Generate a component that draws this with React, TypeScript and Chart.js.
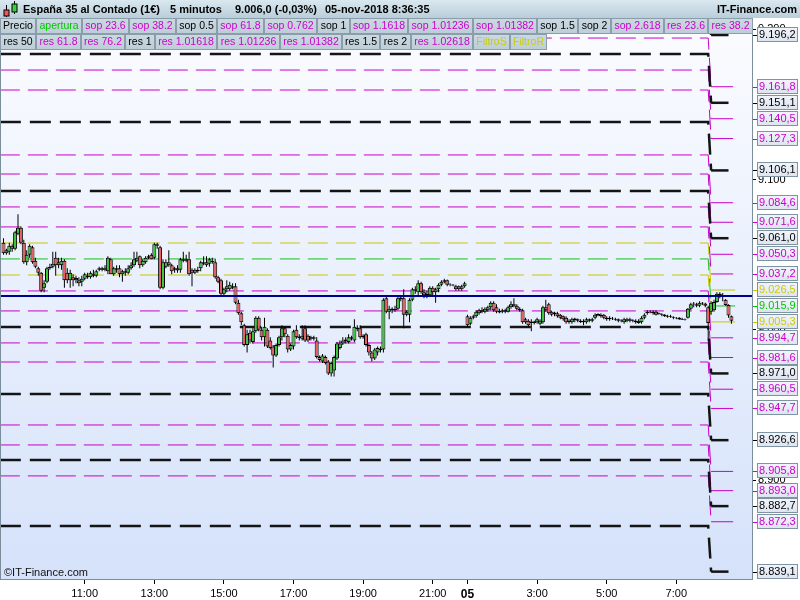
import React, { useEffect, useRef } from "react";
import { Chart, registerables } from "chart.js";

Chart.register(...registerables);

const FONT = "'Liberation Sans', Arial, Helvetica, sans-serif";

// ---- candles (5-minute bars, index 0 = 08:40 on 02-nov, index 251 = 08:35 on 05-nov) ----
const opens = [
  9058, 9051, 9052, 9056, 9054, 9064, 9068, 9058, 9045, 9050, 9055, 9046, 9041, 9038, 9028, 9032, 9041, 9042, 9048, 9045,
  9043, 9046, 9038, 9033, 9035, 9034.5, 9033, 9032, 9034, 9036, 9035, 9037, 9036, 9040, 9041, 9040, 9039, 9047, 9037, 9041,
  9041, 9037, 9039, 9038, 9041, 9043, 9046, 9049, 9043, 9045, 9048, 9050, 9048, 9057, 9055, 9028, 9042, 9045, 9043, 9040,
  9039.5, 9040, 9047, 9046, 9047, 9040, 9038, 9040, 9041, 9045, 9045, 9044, 9046, 9045, 9035, 9033, 9024, 9027, 9027, 9029,
  9029, 9018, 9011, 9003, 8990, 8998, 8992, 8999, 9008, 9000, 8995, 9000, 8993, 8989, 8983, 8990, 8995, 9001, 8996, 8987,
  8989, 9000, 8995.5, 8994, 9001, 8996, 8995, 8994, 8993, 8982, 8979, 8982, 8979, 8971, 8973, 8981, 8988, 8991, 8992.5, 8992,
  8995, 8993, 9001.5, 9001, 8996, 8997, 8990, 8985, 8981, 8985, 8987.5, 8987, 9021, 9012, 9014, 9013, 9014, 9020.5, 9021, 9010,
  9010, 9020, 9027, 9025, 9031, 9025, 9023, 9023, 9028, 9025, 9027, 9030, 9032, 9033, 9030, 9030, 9029, 9029, 9027, 9029,
  9009, 9004, 9008, 9009, 9011, 9013, 9012, 9013, 9015, 9018, 9015, 9012.5, 9012, 9013, 9012, 9015, 9017, 9016, 9013, 9013,
  9007, 9006, 9005.5, 9004.5, 9005, 9004, 9005, 9015, 9017, 9012, 9011.5, 9011, 9010, 9009, 9008, 9006, 9005, 9007.5, 9007, 9006,
  9006, 9005, 9007, 9006, 9008, 9010.5, 9010, 9010, 9007, 9008, 9008, 9007, 9007, 9006.3, 9005, 9006, 9007, 9006.5, 9006, 9006,
  9005, 9008, 9011, 9011.5, 9012, 9012, 9011, 9010.5, 9010, 9009.2, 9009, 9008.5, 9008, 9008, 9007.2, 9007, 9008, 9014, 9016.8, 9017,
  9016, 9018, 9017.5, 9015, 9012, 9013, 9018.5, 9024, 9023, 9020, 9016.5, 9009,
];
const highs = [
  9061, 9054, 9058, 9057, 9066, 9077, 9069, 9060, 9053, 9057, 9056, 9048, 9042, 9038.5, 9033, 9042, 9044, 9052, 9052, 9048,
  9048, 9047, 9041, 9040, 9037, 9036, 9035, 9036, 9038, 9038, 9039, 9040, 9040, 9042, 9042, 9043, 9049, 9048, 9042, 9043,
  9043, 9040, 9041, 9043, 9045, 9052, 9052, 9049.5, 9047, 9049, 9050, 9051, 9058, 9058, 9056, 9047, 9047, 9053, 9044, 9042,
  9043, 9048, 9052, 9050, 9052, 9041, 9041, 9042, 9046, 9049, 9049, 9048, 9048, 9047, 9036, 9034, 9028, 9033, 9032, 9031,
  9031, 9020, 9012, 9004, 9000, 9000, 9001, 9009, 9009, 9002, 9008, 9001, 8995, 8990, 8991, 8996, 9003, 9002, 8997, 8991,
  9000, 9003, 8997, 9003, 9003, 8997, 8996, 8996, 8995, 8983, 8984, 8983, 8980, 8979, 8983, 8992, 8993, 8995, 8995, 8997,
  8996, 9007, 9003, 9003, 8997, 8998, 8991, 8986, 8988, 8989, 8989, 9021, 9022, 9016, 9015, 9016, 9022, 9023, 9027, 9013,
  9021, 9028, 9029, 9033, 9032, 9027, 9026, 9029, 9029, 9028, 9031, 9033, 9034, 9033.5, 9031, 9030.5, 9030, 9029.5, 9030, 9032,
  9010, 9009, 9010, 9013, 9014, 9015, 9015, 9016, 9019, 9019, 9017, 9014, 9014, 9014, 9016, 9019, 9021, 9017, 9015, 9014,
  9008, 9007, 9007, 9006, 9008, 9007, 9016, 9020, 9018, 9012.5, 9012, 9012, 9010.5, 9009.5, 9009, 9007, 9008, 9008, 9007.5, 9007,
  9007, 9008, 9007.5, 9008, 9011, 9011, 9011, 9010.5, 9009, 9009, 9008.5, 9008, 9007.5, 9007, 9008, 9008, 9008, 9007, 9007, 9007,
  9009, 9011, 9013, 9013, 9013, 9013, 9011.5, 9011, 9010.5, 9010, 9010, 9009, 9008.5, 9008.5, 9008, 9007.5, 9014.5, 9018, 9018.5, 9018,
  9019, 9018.5, 9018, 9016, 9019, 9020, 9025, 9025, 9024.5, 9020.5, 9017, 9009.5,
];
const lows = [
  9050, 9050, 9050, 9052, 9053, 9063, 9057, 9044, 9043, 9048, 9044, 9041, 9036, 9025, 9025, 9031, 9040, 9041, 9036, 9041,
  9040, 9028, 9031, 9028, 9029, 9031, 9029, 9029, 9033, 9034, 9034, 9035, 9035, 9039, 9039, 9039, 9037, 9037, 9036, 9038,
  9035, 9032, 9036, 9037, 9040, 9042, 9045, 9041, 9042, 9044, 9047, 9047, 9047, 9054, 9027, 9027, 9041, 9042, 9037, 9038,
  9038, 9038, 9045, 9045, 9036, 9029, 9037, 9038, 9039, 9043, 9042, 9042, 9044, 9034, 9031, 9022, 9022, 9025, 9026, 9027,
  9017, 9010, 9003, 8989, 8985, 8991, 8991, 8998, 8999, 8993, 8989, 8988, 8987, 8975, 8982, 8989, 8993, 8995, 8985, 8986,
  8987, 8994, 8993, 8993, 8992, 8992, 8993, 8993, 8981, 8979, 8978, 8977, 8970, 8969, 8969, 8980, 8987, 8990, 8991, 8991,
  8993, 8992, 8999, 8994, 8994, 8989, 8983, 8979, 8980, 8983, 8985, 8985, 9011, 9007, 9011, 9012, 9013, 9019, 9001, 9009,
  9005, 9019, 9024, 9023, 9024, 9021, 9021, 9022, 9023, 9018, 9025, 9029, 9031, 9029, 9029, 9029, 9026, 9026, 9026, 9028,
  9002, 9003, 9007, 9008, 9010, 9011, 9011, 9012, 9013, 9012, 9011, 9011, 9011, 9011, 9011.5, 9014, 9015, 9013, 9012, 9004,
  9004, 9002, 8999, 9003.5, 9004, 9003, 9004, 9012, 9010, 9009, 9009, 9008, 9007, 9006, 9004, 9004, 9004, 9005, 9005, 9004.5,
  9003, 9004, 9005, 9005, 9007, 9009, 9008, 9007, 9006, 9006, 9006.5, 9006, 9005, 9005, 9004, 9005, 9005, 9005, 9004, 9004,
  9004, 9007, 9010, 9011, 9010, 9009.5, 9010, 9009, 9008.5, 9008, 9008, 9007, 9007, 9006.5, 9006.5, 9006.3, 9007.5, 9013, 9015, 9015,
  9015, 9016.5, 9015, 8993, 9010, 9012, 9018, 9021, 9019, 9016, 9008, 9004,
];
const closes = [
  9051, 9053, 9056, 9054, 9065, 9068, 9058, 9045, 9050, 9056, 9045, 9042, 9038, 9026, 9031, 9041, 9042, 9044, 9043, 9043,
  9046, 9033, 9033, 9038, 9033, 9033, 9031, 9034, 9037, 9035, 9038, 9036, 9039, 9041, 9040, 9041, 9048, 9037, 9041, 9040,
  9037, 9039, 9038, 9041, 9043, 9047, 9048, 9043, 9046, 9048, 9049, 9047, 9057, 9056, 9028, 9045, 9045, 9043, 9039, 9041,
  9041, 9047, 9046, 9047, 9037, 9038, 9040, 9039, 9045, 9044, 9043, 9047, 9045, 9035, 9032, 9024, 9027, 9029, 9030, 9028,
  9018, 9011, 9005, 8990, 8997, 8993, 8999, 9008, 9000, 8995, 9002, 8989, 8988, 8983, 8990, 8995, 9001, 8997, 8987, 8990,
  8999, 8995, 8994.5, 8996, 8993, 8993, 8994, 8995, 8982, 8980, 8983, 8978, 8971, 8978, 8982, 8991, 8991, 8993, 8993.5, 8995,
  8994, 9002, 9000.5, 8995, 8995, 8990, 8985, 8981, 8987, 8988, 8986.5, 9020, 9012, 9014, 9013, 9014, 9021, 9021.5, 9010, 9012,
  9020, 9027, 9026, 9031, 9025, 9023, 9024, 9028, 9025, 9027, 9030, 9032, 9033, 9030, 9030.3, 9029.5, 9027, 9027, 9029, 9031,
  9003, 9008, 9009, 9012, 9013, 9012, 9014, 9015, 9018, 9013, 9012, 9011.5, 9013, 9012, 9015, 9017, 9016, 9014, 9014, 9005,
  9005, 9003, 9004.5, 9005.5, 9007, 9006, 9015, 9013, 9011, 9010, 9010.5, 9009, 9008, 9007, 9005, 9005, 9007, 9006.5, 9006, 9005,
  9005, 9007, 9006, 9007, 9010, 9009.5, 9009, 9008, 9008, 9007, 9007.5, 9006.5, 9006, 9005.7, 9007, 9007, 9006, 9006, 9005, 9004.5,
  9008, 9010, 9012, 9012, 9011, 9010, 9010.5, 9010, 9009, 9008.8, 9008.5, 9008, 9007.7, 9007, 9006.8, 9006.8, 9014, 9017, 9017.6, 9016,
  9018, 9017.5, 9016, 9004.5, 9018, 9018.5, 9024, 9023, 9022, 9016.5, 9009.5, 9006,
];

// ---- time axis ----
const tickIdx = [28, 52, 76, 100, 124, 148, 160, 184, 208, 232];
const tickLabels = ["11:00", "13:00", "15:00", "17:00", "19:00", "21:00", "05", "3:00", "5:00", "7:00"];
const boldTick = 160;
const yTicks = [8900, 9000, 9100, 9200];

// ---- pivot / fibonacci levels (old = 02-nov, new = from 8:00 on 05-nov) ----
const pivotSwitchIdx = 244;
const blackOld = [9228.0, 9183.5, 9138.3, 9092.4, 9001.9, 8957.3, 8913.4, 8869.5];
const blackNew = [9196.2, 9151.1, 9106.1, 9061.0, 8971.0, 8926.6, 8882.7, 8839.1];
const magentaOld = [9194.2, 9172.9, 9159.6, 9116.4, 9103.7, 9081.8, 9068.5, 9025.9, 9012.6, 8991.3, 8978.6, 8936.7, 8923.4, 8902.8];
const magentaNew = [9161.8, 9140.5, 9127.3, 9084.6, 9071.6, 9050.3, 9037.2, 8994.7, 8981.6, 8960.5, 8947.7, 8905.8, 8893.0, 8872.3];
const yellowOld = [9057.8, 9036.5];
const yellowNew = [9026.5, 9005.3];
const greenOld = [9047.2];
const greenNew = [9015.9];
const refLevel = 9022.6;
const blackNewEnd = 250;
const magentaNewEnd = 251.6;
const yellowNewEnd = 252.3;

// ---- axis ranges ----
const X_MIN = -0.86;
const X_MAX = 258.1;
const Y_MIN = 8834.2;
const Y_MAX = 9208.2;

// ---- header texts ----
const titleParts = ["España 35 al Contado (1€)", "5 minutos", "9.006,0 (-0,03%)", "05-nov-2018 8:36:35"];
const titleX = [23, 170, 235, 325];
const siteName = "IT-Finance.com";
const watermark = "©IT-Finance.com";
const legendRow1 = ["Precio", "apertura", "sop 23.6", "sop 38.2", "sop 0.5", "sop 61.8", "sop 0.762", "sop 1", "sop 1.1618",
  "sop 1.01236", "sop 1.01382", "sop 1.5", "sop 2", "sop 2.618", "res 23.6", "res 38.2"];
const legendRow1Kinds = ["k", "g", "m", "m", "k", "m", "m", "k", "m", "m", "m", "k", "k", "m", "m", "m"];
const legendRow2 = ["res 50", "res 61.8", "res 76.2", "res 1", "res 1.01618", "res 1.01236", "res 1.01382", "res 1.5", "res 2",
  "res 1.02618", "FiltroS", "FiltroR"];
const legendRow2Kinds = ["k", "m", "m", "k", "m", "m", "m", "k", "k", "m", "y", "y"];

const TEXT_COLORS: any = { k: "#000000", m: "#cc00cc", g: "#00c800", y: "#cccc00" };
const LINE_COLORS: any = { k: "#141414", m: "#c800c8", g: "#18c018", y: "#c8c800" };

function fmtLevel(v: number): string {
  const [ip, dp] = v.toFixed(1).split(".");
  return ip.slice(0, -3) + "." + ip.slice(-3) + "," + dp;
}
function fmtTick(v: number): string {
  const s = String(Math.round(v));
  return s.slice(0, -3) + "." + s.slice(-3);
}

function levelSets(olds: number[], news: number[], kind: string, width: number, dash: number[], newEnd: number) {
  const color = LINE_COLORS[kind];
  const out: any[] = [];
  olds.forEach((o, k) => {
    const n = news[k];
    out.push({
      type: "line",
      data: [{ x: X_MIN - 0.4, y: o }, { x: pivotSwitchIdx - 1, y: o }, { x: pivotSwitchIdx, y: n }],
      borderColor: color, borderWidth: width, borderDash: dash, pointRadius: 0, tension: 0, order: 3,
    });
    out.push({
      type: "line",
      data: [{ x: pivotSwitchIdx, y: n }, { x: newEnd, y: n }],
      borderColor: color, borderWidth: width, pointRadius: 0, tension: 0, order: 3,
    });
  });
  return out;
}

function drawButtons(ctx: CanvasRenderingContext2D, items: string[], kinds: string[], y: number, h: number) {
  ctx.font = `10.5px ${FONT}`;
  let x = 0;
  items.forEach((t, k) => {
    const w = ctx.measureText(t).width + 6.7;
    const x0 = Math.round(x);
    const x1 = Math.round(x + w);
    const g = ctx.createLinearGradient(0, y, 0, y + h);
    g.addColorStop(0, "#ccdae2");
    g.addColorStop(1, "#bccdd7");
    ctx.fillStyle = g;
    ctx.fillRect(x0, y, x1 - x0, h);
    ctx.strokeStyle = "#8b9daa";
    ctx.lineWidth = 1;
    ctx.strokeRect(x0 + 0.5, y + 0.5, x1 - x0 - 1, h - 1);
    ctx.fillStyle = TEXT_COLORS[kinds[k]];
    ctx.textAlign = "center";
    ctx.textBaseline = "middle";
    ctx.fillText(t, (x0 + x1) / 2, y + h / 2 + 0.5);
    x += w;
  });
}

const overlay = {
  id: "overlay",
  beforeDraw(chart: any) {
    const { ctx, chartArea: a } = chart;
    ctx.save();
    ctx.fillStyle = "#ffffff";
    ctx.fillRect(0, 0, chart.width, chart.height);
    const g = ctx.createLinearGradient(0, a.top, 0, a.bottom);
    g.addColorStop(0, "#fbfcff");
    g.addColorStop(1, "#d5e2fa");
    ctx.fillStyle = g;
    ctx.fillRect(a.left, a.top, a.right - a.left, a.bottom - a.top);
    ctx.restore();
  },
  afterDraw(chart: any) {
    const { ctx, chartArea: a } = chart;
    const ys = chart.scales.y;
    ctx.save();
    // plot frame
    ctx.strokeStyle = "#7b8d9b";
    ctx.lineWidth = 1;
    ctx.strokeRect(a.left - 0.5, a.top - 0.5, a.right - a.left + 1, a.bottom - a.top + 1);

    // watermark
    ctx.fillStyle = "#111";
    ctx.font = `11px ${FONT}`;
    ctx.textAlign = "left";
    ctx.textBaseline = "middle";
    ctx.fillText(watermark, a.left + 3, a.bottom - 6);

    // title bar
    const tg = ctx.createLinearGradient(0, 0, 0, 18);
    tg.addColorStop(0, "#dae8f0");
    tg.addColorStop(1, "#b9cdd9");
    ctx.fillStyle = tg;
    ctx.fillRect(0, 0, chart.width, 18);
    // candle icon
    ctx.fillStyle = "#000";
    ctx.fillRect(6, 5, 1, 12);
    ctx.fillRect(14, 1, 1, 13);
    ctx.fillRect(3.5, 9.5, 6, 7);
    ctx.fillRect(11.5, 3.5, 6, 9);
    ctx.fillStyle = "#e85a5a";
    ctx.fillRect(4.5, 10.5, 4, 5);
    ctx.fillStyle = "#3cd03c";
    ctx.fillRect(12.5, 4.5, 4, 7);
    // title text
    ctx.fillStyle = "#000";
    ctx.font = `bold 11px ${FONT}`;
    ctx.textBaseline = "middle";
    ctx.textAlign = "left";
    titleParts.forEach((t, k) => ctx.fillText(t, titleX[k], 9.5));
    ctx.textAlign = "right";
    ctx.fillText(siteName, 797, 9.5);

    // legend rows
    drawButtons(ctx, legendRow1, legendRow1Kinds, 18, 16);
    drawButtons(ctx, legendRow2, legendRow2Kinds, 34, 16);

    // right-hand level labels
    const labels: any[] = [];
    blackNew.forEach((v) => labels.push({ v, k: "k" }));
    magentaNew.forEach((v) => labels.push({ v, k: "m" }));
    yellowNew.forEach((v) => labels.push({ v, k: "y" }));
    greenNew.forEach((v) => labels.push({ v, k: "g" }));
    labels.sort((p, q) => q.v - p.v);
    ctx.font = `11px ${FONT}`;
    labels.forEach((l) => {
      if (l.v < Y_MIN || l.v > Y_MAX) return;
      const y = Math.round(ys.getPixelForValue(l.v));
      const col = TEXT_COLORS[l.k];
      ctx.strokeStyle = col;
      ctx.beginPath();
      ctx.moveTo(a.right + 1, y + 0.5);
      ctx.lineTo(a.right + 5, y + 0.5);
      ctx.stroke();
      const top = y - 8;
      const bg = ctx.createLinearGradient(0, top, 0, top + 15);
      bg.addColorStop(0, "#f2f5fb");
      bg.addColorStop(1, "#dce4f0");
      ctx.fillStyle = bg;
      ctx.fillRect(a.right + 5, top, 41, 15);
      ctx.strokeStyle = "#7f93a2";
      ctx.strokeRect(a.right + 5.5, top + 0.5, 40, 14);
      ctx.fillStyle = col;
      ctx.textAlign = "left";
      ctx.textBaseline = "middle";
      ctx.fillText(fmtLevel(l.v), a.right + 7, top + 8);
    });
    ctx.restore();
  },
};

export default function App() {
  const ref = useRef<HTMLCanvasElement>(null);
  useEffect(() => {
    document.body.style.margin = "0";
    const canvas = ref.current as HTMLCanvasElement;
    const bodies = closes.map((c, i) => ({ x: i, y: [opens[i], c] }));
    const wicks = highs.map((h, i) => ({ x: i, y: [lows[i], h] }));
    const bodyColors = closes.map((c, i) => (c >= opens[i] ? "#3cc83c" : "#e66262"));

    const datasets: any[] = [];
    datasets.push({
      type: "line",
      data: [{ x: X_MIN - 1, y: refLevel }, { x: X_MAX + 1, y: refLevel }],
      borderColor: "#000090", borderWidth: 2, pointRadius: 0, order: 0,
    });
    datasets.push({
      type: "bar", data: bodies, backgroundColor: bodyColors, borderColor: "#000000", borderWidth: 1,
      borderSkipped: false, barThickness: 4, grouped: false, inflateAmount: 0, order: 1,
    });
    datasets.push({
      type: "bar", data: wicks, backgroundColor: "#000000", borderWidth: 0,
      barThickness: 1, grouped: false, inflateAmount: 0, order: 2,
    });
    datasets.push(...levelSets(blackOld, blackNew, "k", 2.5, [21, 9], blackNewEnd));
    datasets.push(...levelSets(magentaOld, magentaNew, "m", 1, [20, 8], magentaNewEnd));
    datasets.push(...levelSets(yellowOld, yellowNew, "y", 1, [20, 8], yellowNewEnd));
    datasets.push(...levelSets(greenOld, greenNew, "g", 1, [20, 8], yellowNewEnd));

    const chart = new Chart(canvas, {
      type: "line",
      data: { datasets },
      plugins: [overlay],
      options: {
        responsive: false,
        animation: false,
        events: [],
        layout: { padding: { left: 1, top: 17, right: 0, bottom: 0 } },
        plugins: { legend: { display: false }, tooltip: { enabled: false }, title: { display: false } },
        scales: {
          x: {
            type: "linear",
            min: X_MIN,
            max: X_MAX,
            offset: false,
            border: { display: false },
            grid: { offset: false, drawOnChartArea: false, drawTicks: true, tickLength: 5, color: "#000000" },
            afterBuildTicks: (s: any) => {
              s.ticks = tickIdx.map((v) => ({ value: v }));
            },
            afterFit: (s: any) => {
              s.height = 21;
            },
            ticks: {
              autoSkip: false,
              maxRotation: 0,
              padding: 3,
              color: "#000000",
              font: (c: any) =>
                c.tick && c.tick.value === boldTick
                  ? { family: FONT, size: 12, weight: "bold" }
                  : { family: FONT, size: 11 },
              callback: (v: any) => {
                const k = tickIdx.indexOf(Number(v));
                return k >= 0 ? tickLabels[k] : "";
              },
            },
          },
          y: {
            type: "linear",
            position: "right",
            min: Y_MIN,
            max: Y_MAX,
            border: { display: false },
            grid: { drawOnChartArea: false, drawTicks: true, tickLength: 4, color: "#000000" },
            afterBuildTicks: (s: any) => {
              s.ticks = yTicks.map((v) => ({ value: v }));
            },
            afterFit: (s: any) => {
              s.width = 48;
            },
            ticks: {
              padding: 2,
              color: "#000000",
              font: { family: FONT, size: 11 },
              callback: (v: any) => fmtTick(Number(v)),
            },
          },
        },
      } as any,
    } as any);
    return () => chart.destroy();
  }, []);
  return <canvas ref={ref} width={800} height={600} style={{ display: "block" }} />;
}
